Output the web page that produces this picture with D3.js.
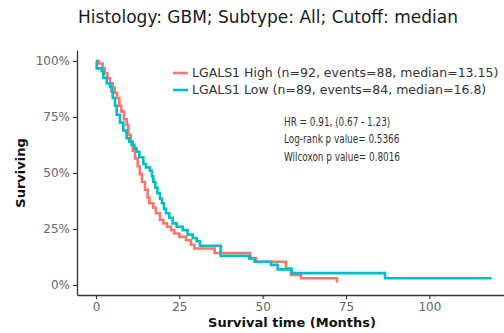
<!DOCTYPE html>
<html>
<head>
<meta charset="utf-8">
<script src="https://cdn.jsdelivr.net/npm/d3@7"></script>
<style>
  body { margin: 0; background: #fff; }
  svg { display: block; font-family: "DejaVu Sans", sans-serif; }
</style>
</head>
<body>
<div id="km-chart"></div>
<script>
// step points: time of drop (months) and survival after it
const highTime = [0, 0.8, 2.0, 2.6, 3.4, 4.2, 5.0, 5.6, 6.3, 7.0, 7.6, 8.4, 9.2, 9.7, 10.4, 11.0, 11.7, 12.5, 13.15, 13.8,
  14.7, 15.5, 16.0, 17.2, 18.0, 19.2, 20.2, 21.3, 22.5, 23.5, 25.0, 27.0, 28.5, 29.5, 35.6, 46.3, 48.0, 57.0, 58.5, 61.5, 72.3];
const highSurv = [1, 0.989, 0.967, 0.945, 0.923, 0.90, 0.88, 0.858, 0.835, 0.80, 0.775, 0.74, 0.715, 0.67, 0.64, 0.60, 0.565, 0.53, 0.495, 0.46,
  0.425, 0.39, 0.365, 0.345, 0.32, 0.29, 0.275, 0.26, 0.245, 0.23, 0.215, 0.20, 0.18, 0.163, 0.143, 0.12, 0.104, 0.075, 0.045, 0.03, 0.011];

const lowTime = [0, 0.2, 1.7, 2.2, 3.2, 4.2, 4.7, 5.0, 5.7, 6.2, 7.2, 8.2, 9.2, 10.0, 10.7, 11.5, 12.2, 13.0, 14.2, 15.0,
  16.2, 16.8, 17.2, 17.8, 18.4, 19.2, 19.8, 20.4, 21.0, 22.0, 23.0, 24.2, 26.0, 27.5, 29.0, 30.2, 31.2, 37.4, 46.0, 47.6,
  52.5, 54.5, 58.7, 86.7, 118.7];
const lowSurv = [1, 0.967, 0.955, 0.925, 0.90, 0.885, 0.863, 0.835, 0.80, 0.76, 0.725, 0.69, 0.655, 0.64, 0.625, 0.61, 0.595, 0.57, 0.54, 0.525,
  0.51, 0.485, 0.46, 0.435, 0.41, 0.385, 0.365, 0.34, 0.32, 0.30, 0.275, 0.26, 0.245, 0.225, 0.21, 0.195, 0.175, 0.13, 0.118, 0.104,
  0.09, 0.07, 0.053, 0.03, 0.03];

const groupNames = ["LGALS1 High (n=92, events=88, median=13.15)", "LGALS1 Low (n=89, events=84, median=16.8)"];
const groupColors = ["#F8766D", "#00BFC4"];
const statLines = ["HR = 0.91, (0.67 - 1.23)", "Log-rank p value= 0.5366", "Wilcoxon p value= 0.8016"];
const xTicks = [0, 25, 50, 75, 100];
const yTicks = [0, 0.25, 0.5, 0.75, 1];

const W = 504, H = 333;

const svg = d3.select("#km-chart").append("svg")
  .attr("width", W)
  .attr("height", H);

svg.append("rect").attr("width", W).attr("height", H).attr("fill", "#fff");

// scales (padded a little past the data like ggplot does)
const x = d3.scaleLinear().domain([-5.7, 122.4]).range([77, 504]);
const y = d3.scaleLinear().domain([-0.0446, 1.049]).range([295, 50]);

// title
svg.append("text")
  .attr("x", 268)
  .attr("y", 23)
  .attr("text-anchor", "middle")
  .style("font-size", "17px")
  .attr("fill", "#1a1a1a")
  .text("Histology: GBM; Subtype: All; Cutoff: median");

// axes
const xAxis = svg.append("g")
  .attr("transform", `translate(0,${y.range()[0]})`)
  .call(d3.axisBottom(x).tickValues(xTicks).tickSize(4).tickSizeOuter(0).tickPadding(3));

const yAxis = svg.append("g")
  .attr("transform", `translate(${x.range()[0]},0)`)
  .call(d3.axisLeft(y).tickValues(yTicks).tickFormat(d3.format(".0%")).tickSize(4).tickSizeOuter(0).tickPadding(3));

[xAxis, yAxis].forEach(g => {
  g.select(".domain").attr("stroke", "#333").attr("stroke-width", 1.3);
  g.selectAll(".tick line").attr("stroke", "#333").attr("stroke-width", 1.1);
  g.selectAll(".tick text")
    .attr("fill", "#666")
    .style("font-size", "12px")
    .style("font-family", "DejaVu Sans, sans-serif");
});

// axis titles
svg.append("text")
  .attr("transform", `translate(25,${(y(0) + y(1)) / 2}) rotate(-90)`)
  .attr("text-anchor", "middle")
  .style("font-size", "13px")
  .style("font-weight", "bold")
  .attr("fill", "#111")
  .text("Surviving");

svg.append("text")
  .attr("x", 292)
  .attr("y", 327)
  .attr("text-anchor", "middle")
  .style("font-size", "13px")
  .style("font-weight", "bold")
  .attr("fill", "#111")
  .text("Survival time (Months)");

// survival curves
const series = [
  highTime.map((t, i) => ({ t: t, s: highSurv[i] })),
  lowTime.map((t, i) => ({ t: t, s: lowSurv[i] }))
];

const line = d3.line()
  .x(d => x(d.t))
  .y(d => y(d.s))
  .curve(d3.curveStepAfter);

// high first, low drawn over it
[0, 1].forEach(i => {
  svg.append("path")
    .datum(series[i])
    .attr("fill", "none")
    .attr("stroke", groupColors[i])
    .attr("stroke-width", 2.6)
    .attr("d", line);
});

// legend
const legend = svg.append("g").attr("transform", "translate(173,73)");
groupNames.forEach((name, i) => {
  legend.append("line")
    .attr("x1", 0).attr("x2", 15)
    .attr("y1", i * 17).attr("y2", i * 17)
    .attr("stroke", groupColors[i])
    .attr("stroke-width", 2.6);
  legend.append("text")
    .attr("x", 19)
    .attr("y", i * 17)
    .attr("dy", "0.35em")
    .style("font-size", "12.5px")
    .attr("fill", "#333")
    .text(name);
});

// HR and p values (narrow lettering in the original)
const stats = svg.append("g").attr("transform", "translate(284,121.5) scale(0.77,1)");
statLines.forEach((s, i) => {
  stats.append("text")
    .attr("x", 0)
    .attr("y", i * 17.5)
    .attr("dy", "0.35em")
    .style("font-size", "11.5px")
    .attr("fill", "#333")
    .text(s);
});
</script>
</body>
</html>
